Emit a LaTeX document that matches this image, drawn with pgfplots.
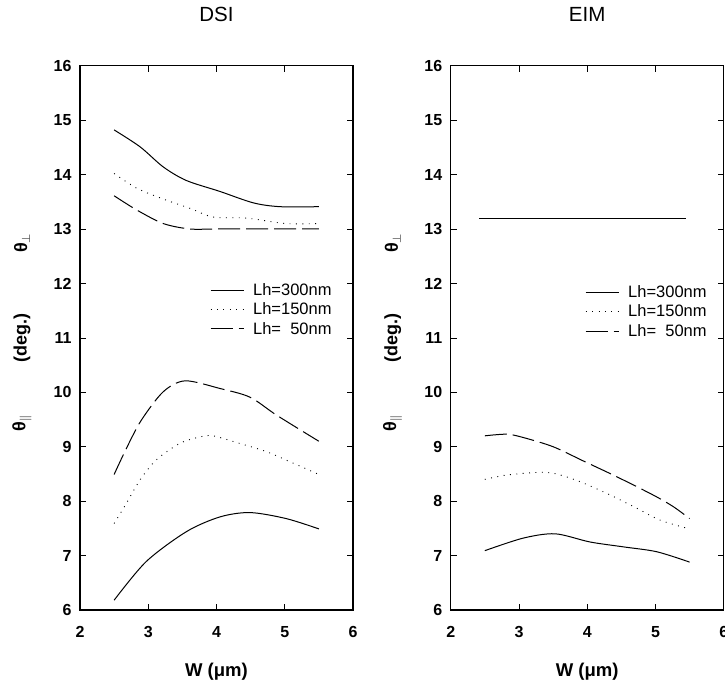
\documentclass[border=0pt]{standalone}
\usepackage{pgfplots}
\pgfplotsset{compat=1.18}
\usepackage{fontspec}
\setmainfont{Liberation Sans}
\tikzset{ylab/.style={rotate=90, font=\bfseries\fontsize{18}{21}\selectfont}}
\begin{document}
\begin{tikzpicture}[x=1pt,y=1pt]
\pgfplotsset{
  panel/.style={
    scale only axis, width=273pt, height=544.3pt,
    anchor=south west,
    xmin=2, xmax=6, ymin=6, ymax=16,
    xtick={2,3,4,5,6}, ytick={6,7,...,16},
    tick align=inside, major tick length=6pt,
    axis line style={line width=1.2pt},
    tick style={line width=0.6pt, black},
    /pgf/number format/assume math mode=true,
    xticklabel style={font=\bfseries\fontsize{16}{19}\selectfont, anchor=center, yshift=-22pt},
    yticklabel style={font=\bfseries\fontsize{16}{19}\selectfont, anchor=east, inner sep=0pt, xshift=-8.3pt},
    title style={at={(0.5,1)}, anchor=center, yshift=45.7pt, font=\fontsize{20.5}{24}\selectfont},
    xlabel={W (μm)},
    xlabel style={at={(0.5,0)}, anchor=center, yshift=-61.7pt, font=\bfseries\fontsize{18.5}{22}\selectfont},
    clip=false,
    legend cell align=left,
    legend image code/.code={\draw[##1] (0pt,0pt) -- (33pt,0pt);},
    legend style={draw=none, fill=none, font=\fontsize{16.5}{19}\selectfont, inner sep=0pt,
      nodes={inner sep=3pt}, row sep=0pt, column sep=6pt},
  },
  solidc/.style={black, line width=1pt, smooth},
  dotc/.style={black, line width=0.9pt, dash pattern=on 0.9pt off 5.5pt, smooth},
  dashc/.style={black, line width=1pt, dash pattern=on 22pt off 6pt, smooth},
}
% ---------------- DSI ----------------
\begin{axis}[panel, at={(80pt,73pt)}, title={DSI},
  legend style={at={(0.476,0.606)}, anchor=north west}]
\addplot[solidc, forget plot] coordinates {(2.5,14.82)(2.88,14.51)(3.22,14.14)(3.56,13.89)(4.05,13.69)(4.54,13.48)(4.93,13.41)(5.5,13.41)};
\addplot[dotc, forget plot] coordinates {(2.5,14.02)(2.83,13.75)(3.22,13.55)(3.61,13.38)(3.95,13.22)(4.44,13.2)(5.02,13.1)(5.5,13.1)};
\addplot[dashc, forget plot] coordinates {(2.5,13.61)(2.83,13.35)(3.22,13.1)(3.61,13.0)(4.0,13.0)(5.0,13.0)(5.5,13.0)};
\addplot[solidc] coordinates {(2.5,6.18)(2.97,6.89)(3.56,7.44)(4.05,7.71)(4.49,7.79)(5.02,7.68)(5.5,7.49)};
\addlegendentry{Lh=300nm}
\addplot[dotc] coordinates {(2.5,7.59)(2.68,7.96)(2.88,8.39)(3.12,8.76)(3.46,9.06)(3.76,9.18)(3.95,9.2)(4.34,9.06)(4.73,8.91)(5.12,8.7)(5.5,8.49)};
\addlegendentry{Lh=150nm}
\addplot[dashc] coordinates {(2.5,8.49)(2.68,8.97)(2.9,9.49)(3.22,10.01)(3.54,10.21)(4.05,10.07)(4.49,9.91)(4.88,9.58)(5.5,9.1)};
\addlegendentry{Lh=\phantom{3}50nm}
\node[ylab] at ([xshift=-58pt]axis cs:2,12.74) {θ$_{\perp}$};
\node[ylab] at ([xshift=-58pt]axis cs:2,11.0) {(deg.)};
\node[ylab] at ([xshift=-58pt]axis cs:2,9.43) {θ$_{\parallel}$};
\end{axis}
% ---------------- EIM ----------------
\begin{axis}[panel, at={(450.7pt,73pt)}, title={EIM},
  legend style={at={(0.492,0.602)}, anchor=north west}]
\addplot[solidc, forget plot] coordinates {(2.42,13.2)(5.44,13.2)};
\addplot[solidc] coordinates {(2.5,7.09)(3.06,7.32)(3.53,7.4)(4.04,7.25)(4.53,7.16)(5.02,7.07)(5.5,6.88)};
\addlegendentry{Lh=300nm}
\addplot[dotc] coordinates {(2.5,8.4)(2.82,8.48)(3.31,8.53)(3.55,8.5)(3.89,8.36)(4.29,8.14)(4.68,7.9)(5.07,7.65)(5.5,7.49)};
\addlegendentry{Lh=150nm}
\addplot[dashc] coordinates {(2.5,9.2)(2.82,9.23)(3.06,9.17)(3.5,9.0)(3.94,8.74)(4.43,8.45)(4.97,8.11)(5.26,7.9)(5.5,7.68)};
\addlegendentry{Lh=\phantom{3}50nm}
\node[ylab] at ([xshift=-58pt]axis cs:2,12.74) {θ$_{\perp}$};
\node[ylab] at ([xshift=-58pt]axis cs:2,11.0) {(deg.)};
\node[ylab] at ([xshift=-58pt]axis cs:2,9.43) {θ$_{\parallel}$};
\end{axis}
\pgfresetboundingbox
\path[use as bounding box] (0,0) rectangle (725,683);
\end{tikzpicture}
\end{document}
